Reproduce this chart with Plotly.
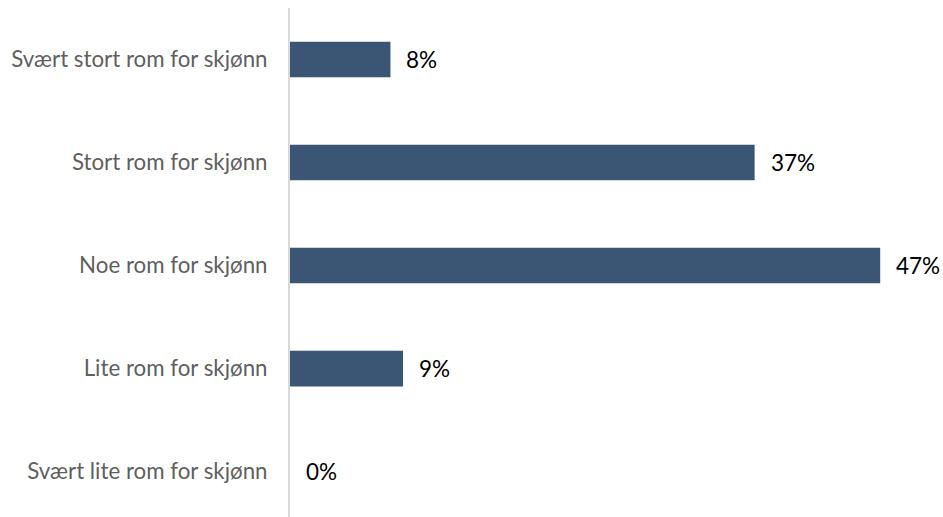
import plotly.graph_objects as go

categories = [
    "Svært stort rom for skjønn",
    "Stort rom for skjønn",
    "Noe rom for skjønn",
    "Lite rom for skjønn",
    "Svært lite rom for skjønn",
]
values = [8, 37, 47, 9, 0]
labels = [f"{v}%" for v in values]

bar_color = "#3b5675"
font_family = "Lato, Carlito, sans-serif"

fig = go.Figure(
    go.Bar(
        x=values,
        y=categories,
        orientation="h",
        marker=dict(color=bar_color, line=dict(width=0)),
        width=0.345,
        hoverinfo="skip",
    )
)

# value labels to the right of each bar
for cat, v, lab in zip(categories, values, labels):
    fig.add_annotation(
        x=v, y=cat, text=lab, showarrow=False,
        xanchor="left", yanchor="middle", xshift=14,
        font=dict(family=font_family, size=22.5, color="#000000"),
    )

fig.update_layout(
    width=943, height=517,
    margin=dict(l=290, r=0, t=8, b=0),
    paper_bgcolor="white", plot_bgcolor="white",
    showlegend=False,
    xaxis=dict(range=[0, 52.0], visible=False, fixedrange=True),
    yaxis=dict(
        type="category",
        range=[4.44, -0.5],
        showline=True, linecolor="#d9d9d9", linewidth=2,
        showgrid=False, zeroline=False,
        ticks="", ticklabelstandoff=16,
        tickfont=dict(family=font_family, size=22.3, color="#5f5f5f"),
    ),
)

fig.write_html("out.html")
